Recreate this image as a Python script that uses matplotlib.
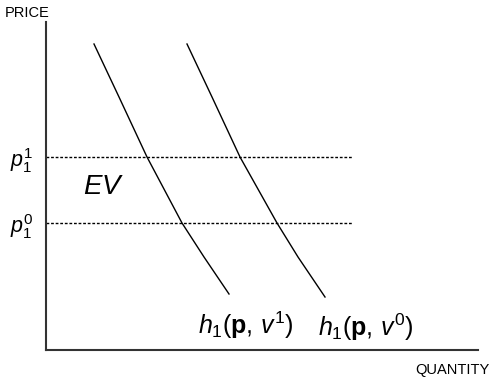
import matplotlib
matplotlib.use("Agg")
import matplotlib.pyplot as plt

plt.rcParams['font.family'] = ['Liberation Sans', 'DejaVu Sans']
plt.rcParams['mathtext.fontset'] = 'custom'
plt.rcParams['mathtext.rm'] = 'Liberation Sans'
plt.rcParams['mathtext.it'] = 'Liberation Sans:italic'
plt.rcParams['mathtext.bf'] = 'Liberation Sans:bold'

# price levels
priceLevels = [193, 127]
priceLabels = [r'$p_1^1$', r'$p_1^0$']
dottedEnd = 306

# compensated demand curves (quantity, price)
h1Quantity = [48, 73, 101, 136, 158, 183]
h1Price = [306, 253, 193, 127, 93, 56]
h0Quantity = [141, 166, 194, 231, 252, 279]
h0Price = [306, 253, 193, 127, 93, 53]

fig = plt.figure(figsize=(4.92, 3.78), dpi=100)
ax = fig.add_axes([46 / 492, 28 / 378, 432 / 492, 328 / 378])
ax.set_xlim(0, 432)
ax.set_ylim(0, 328)

ax.plot(h1Quantity, h1Price, color='black', lw=1.0)
ax.plot(h0Quantity, h0Price, color='black', lw=1.0)
for p in priceLevels:
    ax.plot([0, dottedEnd], [p, p], color='black', lw=1.0, linestyle=(0, (2, 1.3)))

for s in ['top', 'right']:
    ax.spines[s].set_visible(False)
for s in ['left', 'bottom']:
    ax.spines[s].set_linewidth(1.5)
    ax.spines[s].set_color('#333333')

ax.set_xticks([])
ax.set_yticks(priceLevels)
ax.set_yticklabels(priceLabels, fontsize=15.5)
ax.tick_params(axis='y', length=0, pad=9)

ax.text(37, 163, r'$EV$', fontsize=20, va='center', ha='left')
ax.text(152, 25, r'$h_1(\mathbf{p},\, v^1)$', fontsize=18, va='center', ha='left')
ax.text(272, 23, r'$h_1(\mathbf{p},\, v^0)$', fontsize=18, va='center', ha='left')

fig.text(5 / 492, 1 - 13 / 378, 'PRICE', fontsize=10.5, va='center', ha='left')
fig.text(490 / 492, 1 - 370 / 378, 'QUANTITY', fontsize=10.5, va='center', ha='right')

fig.savefig('out.png', dpi=100)
